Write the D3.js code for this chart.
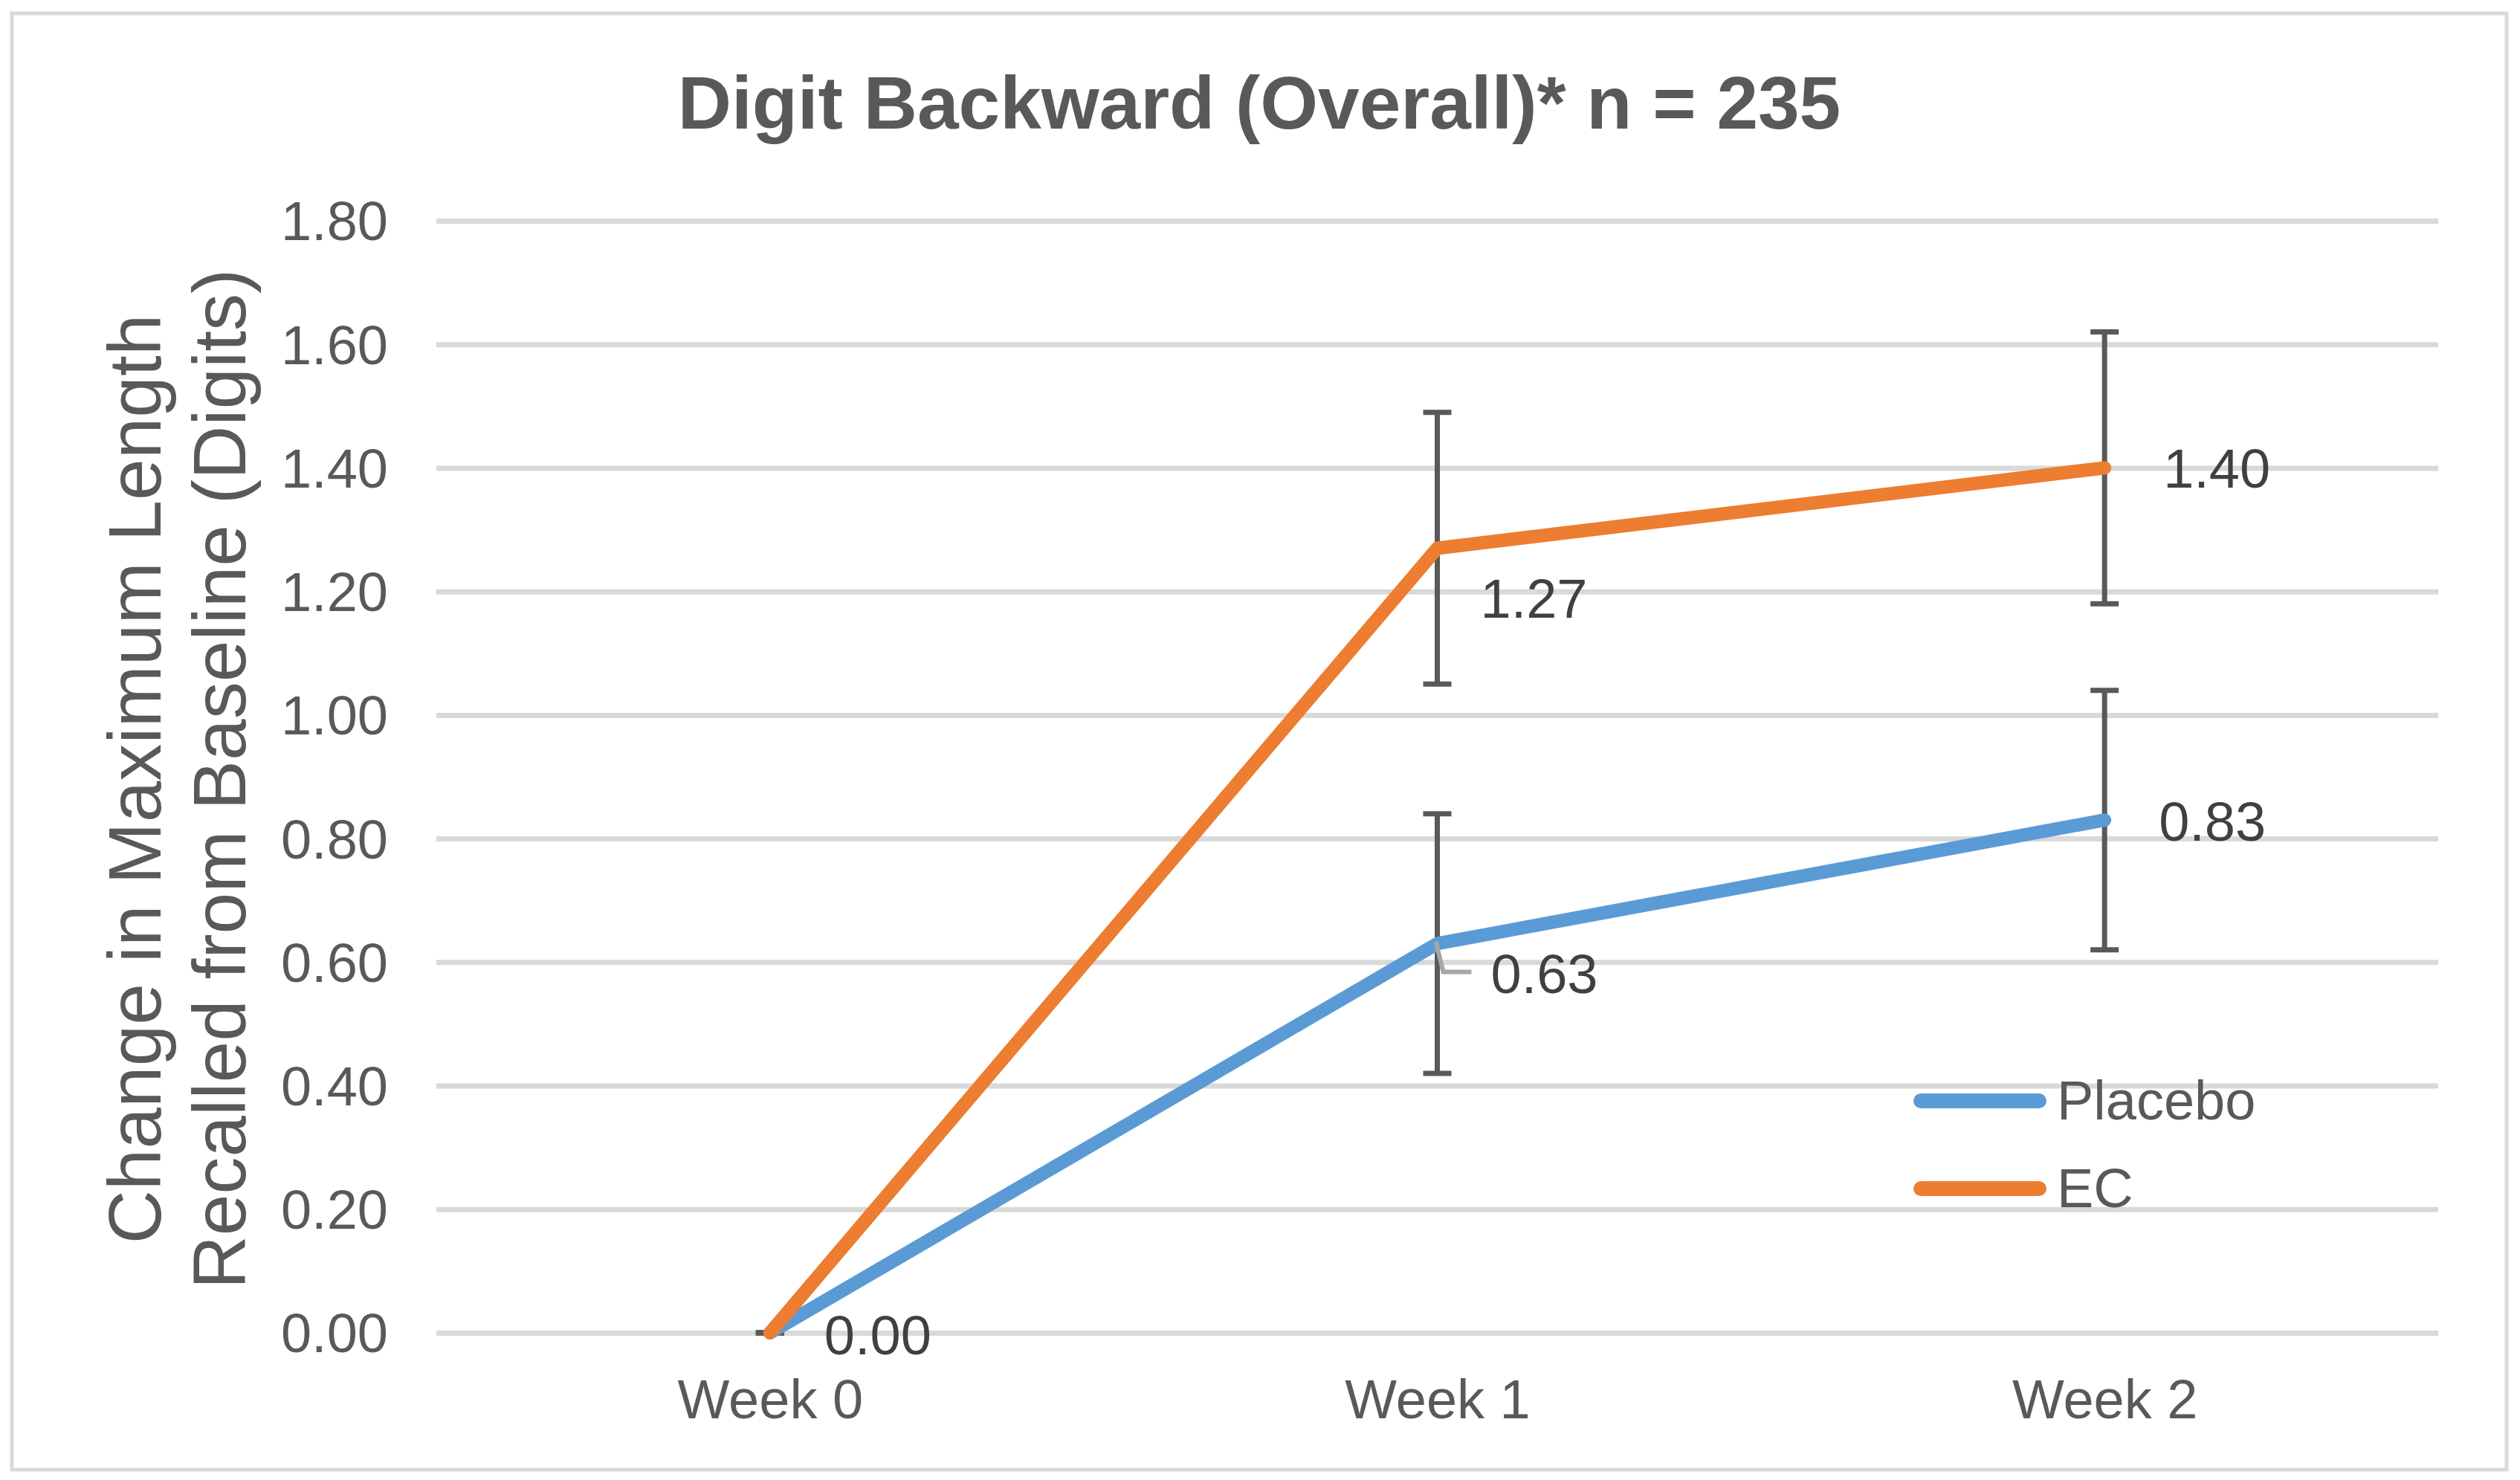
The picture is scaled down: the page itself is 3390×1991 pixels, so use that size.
<!DOCTYPE html>
<html>
<head>
<meta charset="utf-8">
<script src="https://cdn.jsdelivr.net/npm/d3@7"></script>
<style>
  html, body { margin: 0; padding: 0; background: #fff; }
  text { font-family: "Liberation Sans", Arial, sans-serif; }
</style>
</head>
<body>
<div id="chart"></div>
<script>
// values
const weeks = ["Week 0", "Week 1", "Week 2"]
const placebo = [0.00, 0.63, 0.83]
const placeboErr = [0, 0.21, 0.21]
const ec = [0.00, 1.27, 1.40]
const ecErr = [0, 0.22, 0.22]
const yTicks = [0, 0.2, 0.4, 0.6, 0.8, 1.0, 1.2, 1.4, 1.6, 1.8]

// label placement (pixel offsets from the point), as placed in the original
const placeboLabelOffsets = [[73, 29], [72, 67], [73, 28]]
const ecLabelOffsets = [null, [58, 94], [79, 27]]

const W = 3390, H = 1991
const plot = { left: 587, right: 3280, top: 297, bottom: 1793 }

const svg = d3.select("#chart")
  .append("svg")
  .attr("width", W)
  .attr("height", H)
  .attr("viewBox", [0, 0, W, H])

// outer chart border
svg.append("rect")
  .attr("x", 16).attr("y", 18)
  .attr("width", 3356).attr("height", 1959)
  .attr("fill", "#fff")
  .attr("stroke", "#d9d9d9")
  .attr("stroke-width", 5)

const x = d3.scalePoint().domain(weeks).range([plot.left, plot.right]).padding(0.5)
const y = d3.scaleLinear().domain([0, 1.8]).range([plot.bottom, plot.top])

// y axis + gridlines
const yAxis = svg.append("g")
  .attr("transform", `translate(${plot.left},0)`)
  .call(d3.axisLeft(y)
    .tickValues(yTicks)
    .tickFormat(d3.format(".2f"))
    .tickSize(-(plot.right - plot.left))
    .tickPadding(65))
yAxis.select(".domain").remove()
yAxis.selectAll(".tick line").attr("stroke", "#d9d9d9").attr("stroke-width", 7)
yAxis.selectAll(".tick text")
  .attr("fill", "#595959")
  .attr("font-size", 74)
  .attr("dy", "0.35em")

// x axis labels
const xAxis = svg.append("g")
  .attr("transform", `translate(0,${plot.bottom})`)
  .call(d3.axisBottom(x).tickSize(0).tickPadding(62))
xAxis.select(".domain").remove()
xAxis.selectAll(".tick text").attr("fill", "#595959").attr("font-size", 74)

// title
svg.append("text")
  .attr("x", 1694).attr("y", 173)
  .attr("text-anchor", "middle")
  .attr("font-size", 100)
  .attr("font-weight", "bold")
  .attr("fill", "#595959")
  .text("Digit Backward (Overall)* n = 235")

// y axis title (two lines)
const yTitle = svg.append("text")
  .attr("transform", "translate(0,1048) rotate(-90)")
  .attr("text-anchor", "middle")
  .attr("font-size", 100)
  .attr("fill", "#595959")
yTitle.append("tspan").attr("x", 0).attr("y", 216).text("Change in Maximum Length")
yTitle.append("tspan").attr("x", 0).attr("y", 330).text("Recalled from Baseline (Digits)")

const series = [
  { name: "Placebo", values: placebo, err: placeboErr, color: "#5b9bd5", offsets: placeboLabelOffsets },
  { name: "EC", values: ec, err: ecErr, color: "#ed7d31", offsets: ecLabelOffsets }
]

// error bars
const capW = 19
series.forEach(s => {
  const g = svg.append("g").attr("stroke", "#595959").attr("stroke-width", 7)
  s.values.forEach((v, i) => {
    const cx = x(weeks[i])
    const hi = y(v + s.err[i]), lo = y(v - s.err[i])
    g.append("line").attr("x1", cx).attr("x2", cx).attr("y1", hi).attr("y2", lo)
    g.append("line").attr("x1", cx - capW).attr("x2", cx + capW).attr("y1", hi).attr("y2", hi)
    g.append("line").attr("x1", cx - capW).attr("x2", cx + capW).attr("y1", lo).attr("y2", lo)
  })
})

// lines
const line = d3.line().x((d, i) => x(weeks[i])).y(d => y(d))
series.forEach(s => {
  svg.append("path")
    .datum(s.values)
    .attr("d", line)
    .attr("fill", "none")
    .attr("stroke", s.color)
    .attr("stroke-width", 18)
    .attr("stroke-linejoin", "round")
    .attr("stroke-linecap", "round")
})

// data labels
series.forEach(s => {
  s.values.forEach((v, i) => {
    const off = s.offsets[i]
    if (!off) return
    const px = x(weeks[i]), py = y(v)
    const lx = px + off[0], ly = py + off[1]
    if (s.name === "Placebo" && i === 1) {
      // leader line to the moved label
      svg.append("path")
        .attr("d", d3.line()([[px - 2, py - 3], [px + 8, ly - 29], [lx - 26, ly - 29]]))
        .attr("fill", "none")
        .attr("stroke", "#a6a6a6")
        .attr("stroke-width", 6)
    }
    svg.append("text")
      .attr("x", lx).attr("y", ly)
      .attr("font-size", 74)
      .attr("fill", "#404040")
      .text(d3.format(".2f")(v))
  })
})

// legend
const legend = svg.append("g").attr("transform", "translate(2574,1481)")
series.forEach((s, i) => {
  const g = legend.append("g").attr("transform", `translate(0,${i * 118})`)
  g.append("line")
    .attr("x1", 10).attr("x2", 169)
    .attr("stroke", s.color)
    .attr("stroke-width", 20)
    .attr("stroke-linecap", "round")
  g.append("text")
    .attr("x", 193).attr("y", 25)
    .attr("font-size", 74)
    .attr("fill", "#595959")
    .text(s.name)
})
</script>
</body>
</html>
